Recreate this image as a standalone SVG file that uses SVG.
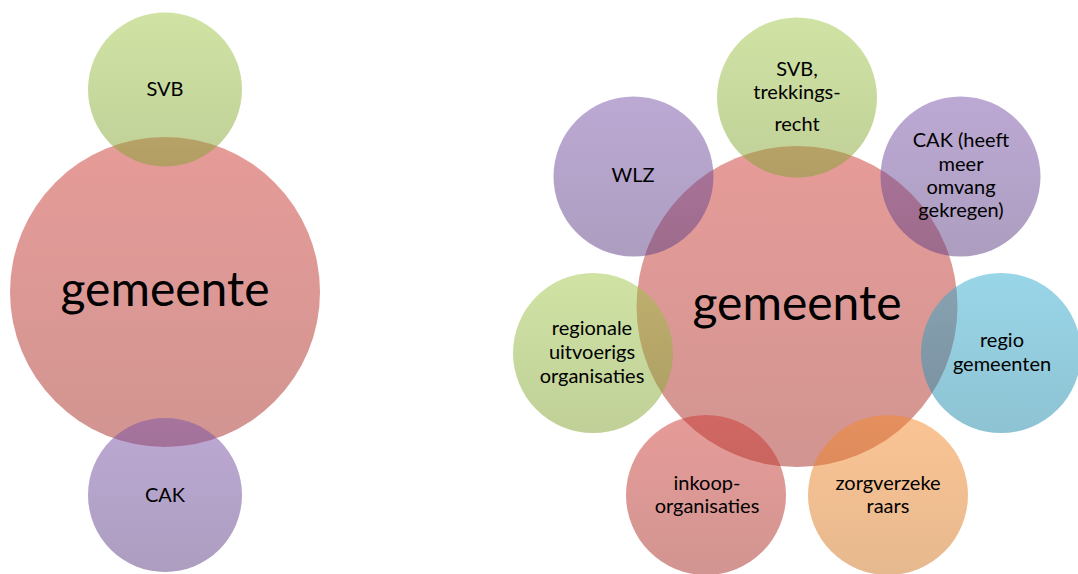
<svg xmlns="http://www.w3.org/2000/svg" width="1078" height="574" viewBox="0 0 1078 574">
  <defs>
    <!-- vertical shading for each accent colour; drawn at half opacity -->
    <linearGradient id="gRed" x1="0" y1="0" x2="0" y2="1">
      <stop offset="0" stop-color="#CD3933"/>
      <stop offset="1" stop-color="#A52B23"/>
    </linearGradient>
    <linearGradient id="gGreen" x1="0" y1="0" x2="0" y2="1">
      <stop offset="0" stop-color="#A1C749"/>
      <stop offset="1" stop-color="#81A131"/>
    </linearGradient>
    <linearGradient id="gPurple" x1="0" y1="0" x2="0" y2="1">
      <stop offset="0" stop-color="#7953A9"/>
      <stop offset="1" stop-color="#5B3D81"/>
    </linearGradient>
    <linearGradient id="gBlue" x1="0" y1="0" x2="0" y2="1">
      <stop offset="0" stop-color="#33ADD1"/>
      <stop offset="1" stop-color="#1D87A7"/>
    </linearGradient>
    <linearGradient id="gOrange" x1="0" y1="0" x2="0" y2="1">
      <stop offset="0" stop-color="#F7892B"/>
      <stop offset="1" stop-color="#CD731D"/>
    </linearGradient>
  </defs>
  <style>
    circle { fill-opacity: 0.5; stroke: none; }
    .red { fill: url(#gRed); }
    .green { fill: url(#gGreen); }
    .purple { fill: url(#gPurple); }
    .blue { fill: url(#gBlue); }
    .orange { fill: url(#gOrange); }
    text { font-family: Lato, "Open Sans", "Liberation Sans", sans-serif; fill: #000; text-anchor: middle; }
    .lbl { font-size: 20px; }
    .big { font-size: 48px; }
  </style>

  <!-- left cluster -->
  <g id="left-gemeente">
    <circle class="red" cx="165" cy="292" r="155"/>
    <text class="big" x="165" y="306">gemeente</text>
  </g>
  <g id="left-svb">
    <circle class="green" cx="165" cy="89.5" r="77"/>
    <text class="lbl" x="165" y="96">SVB</text>
  </g>
  <g id="left-cak">
    <circle class="purple" cx="165" cy="495" r="77"/>
    <text class="lbl" x="165" y="502">CAK</text>
  </g>

  <!-- right cluster: seven satellites around the centre circle -->
  <g id="right-gemeente">
    <circle class="red" cx="797" cy="306.5" r="160.5"/>
    <text class="big" x="797" y="320">gemeente</text>
  </g>
  <g id="right-svb">
    <circle class="green" cx="797" cy="97.5" r="80"/>
    <text class="lbl" x="797" y="76">SVB,</text>
    <text class="lbl" x="797" y="99">trekkings-</text>
    <text class="lbl" x="797" y="131">recht</text>
  </g>
  <g id="right-cak">
    <circle class="purple" cx="960.5" cy="176.5" r="80"/>
    <text class="lbl" x="961" y="147">CAK (heeft</text>
    <text class="lbl" x="961" y="171">meer</text>
    <text class="lbl" x="961" y="194">omvang</text>
    <text class="lbl" x="961" y="217">gekregen)</text>
  </g>
  <g id="right-regio">
    <circle class="blue" cx="1001" cy="353" r="80"/>
    <text class="lbl" x="1002" y="347">regio</text>
    <text class="lbl" x="1002" y="371">gemeenten</text>
  </g>
  <g id="right-zorgverzekeraars">
    <circle class="orange" cx="888" cy="495" r="80"/>
    <text class="lbl" x="888" y="490">zorgverzeke</text>
    <text class="lbl" x="888" y="513">raars</text>
  </g>
  <g id="right-inkoop">
    <circle class="red" cx="706" cy="495" r="80"/>
    <text class="lbl" x="707" y="490">inkoop-</text>
    <text class="lbl" x="707" y="513">organisaties</text>
  </g>
  <g id="right-regionale">
    <circle class="green" cx="593" cy="353" r="80"/>
    <text class="lbl" x="592" y="335">regionale</text>
    <text class="lbl" x="592" y="359">uitvoerigs</text>
    <text class="lbl" x="592" y="383">organisaties</text>
  </g>
  <g id="right-wlz">
    <circle class="purple" cx="633.5" cy="176.5" r="80"/>
    <text class="lbl" x="633" y="182">WLZ</text>
  </g>

  <!-- no connectors in this diagram -->
  <g id="connectors"/>
</svg>
